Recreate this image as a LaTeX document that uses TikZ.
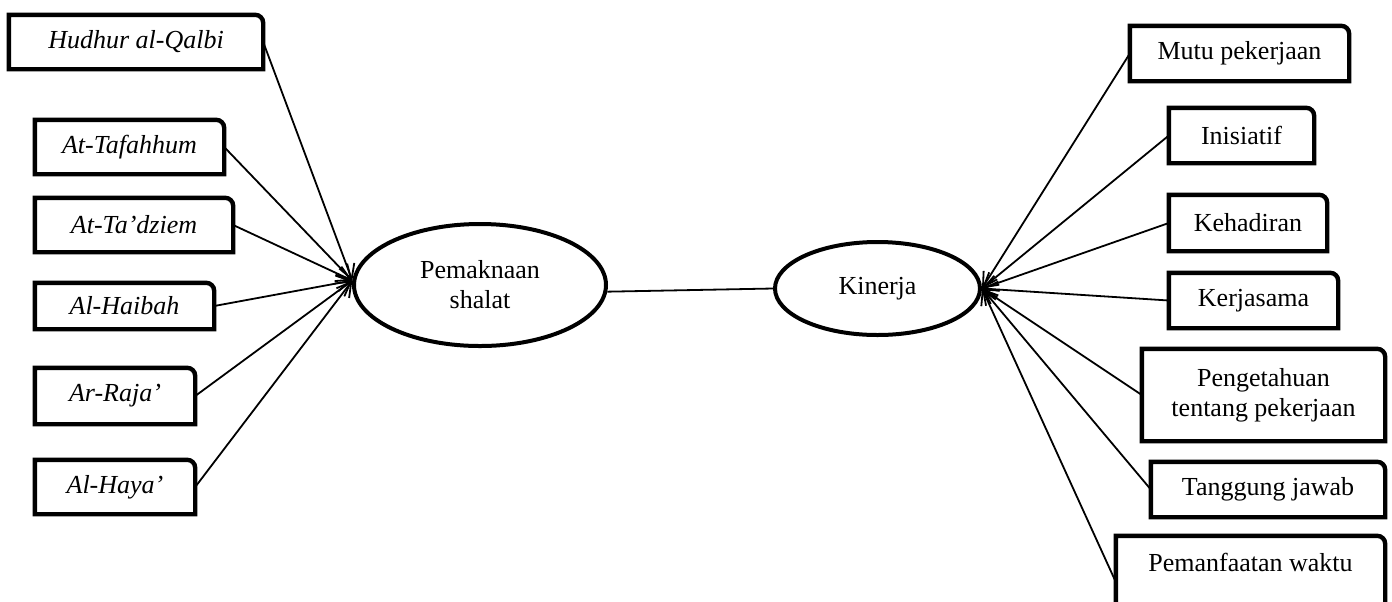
\documentclass[tikz,border=0pt]{standalone}
\usepackage{fontspec}
\setmainfont{Liberation Serif}
\usetikzlibrary{shapes.geometric,arrows.meta}

\begin{document}
\begin{tikzpicture}
  [x=0.5pt,y=-0.5pt,every node/.style={inner sep=0pt,align=center,font=\fontsize{13}{15}\selectfont},
   lat/.style={ellipse,draw,line width=2pt},
   arr/.style={-{Straight Barb[length=7pt,width=8pt]},line width=0.9pt}]
  \useasboundingbox (0,0) rectangle (1392,601);
  \node[lat,minimum width=126pt,minimum height=61pt] (pm) at (480,285) {Pemaknaan\\shalat};
  \node[lat,minimum width=102.5pt,minimum height=46.5pt] (kn) at (877.5,288.5) {Kinerja};
  % indikator kiri
  \node[minimum width=126.8pt,minimum height=26.8pt] (hq) at (136,42) {\itshape Hudhur al-Qalbi};
  \node[minimum width=94.3pt,minimum height=26.8pt] (tf) at (129.5,147) {\itshape At-Tafahhum};
  \node[minimum width=98.8pt,minimum height=26.8pt] (td) at (134,225) {\itshape At-Ta’dziem};
  \node[minimum width=89.3pt,minimum height=22.8pt] (hb) at (124.5,306) {\itshape Al-Haibah};
  \node[minimum width=79.8pt,minimum height=27.8pt] (rj) at (115,396) {\itshape Ar-Raja’};
  \node[minimum width=79.8pt,minimum height=26.8pt] (hy) at (115,487) {\itshape Al-Haya’};
  % indikator kanan
  \node[minimum width=109.3pt,minimum height=27.3pt] (mp) at (1239.5,53.5) {Mutu pekerjaan};
  \node[minimum width=72.3pt,minimum height=27.3pt] (ini) at (1241.5,135.5) {Inisiatif};
  \node[minimum width=78.8pt,minimum height=27.8pt] (kh) at (1248,223) {Kehadiran};
  \node[minimum width=84.3pt,minimum height=27.3pt] (kj) at (1253.5,300.5) {Kerjasama};
  \node[minimum width=121.3pt,minimum height=45.8pt] (pg) at (1263.5,395) {Pengetahuan\\tentang pekerjaan};
  \node[minimum width=116.8pt,minimum height=27.3pt] (tj) at (1268,489.5) {Tanggung jawab};
  \node[minimum width=134.3pt,minimum height=45.8pt] (pw) at (1250.5,582) {Pemanfaatan waktu\\\strut};
  \foreach \b in {hq,tf,td,hb,rj,hy,mp,ini,kh,kj,pg,tj,pw}
    \draw[line width=2.2pt] (\b.south west) -- (\b.north west) -- ([xshift=-4pt]\b.north east)
      arc[start angle=90,end angle=0,radius=4pt] -- (\b.south east) -- cycle;

  \foreach \from in {hq,tf,td,hb,rj,hy}
    \draw[arr] (\from.east) -- (pm.178);
  \foreach \from in {mp,ini,kh,kj,pg,tj,pw}
    \draw[arr] (\from.west) -- (kn.east);
  \draw[line width=0.9pt] (pm.-3) -- (kn.west);

\end{tikzpicture}
\end{document}
